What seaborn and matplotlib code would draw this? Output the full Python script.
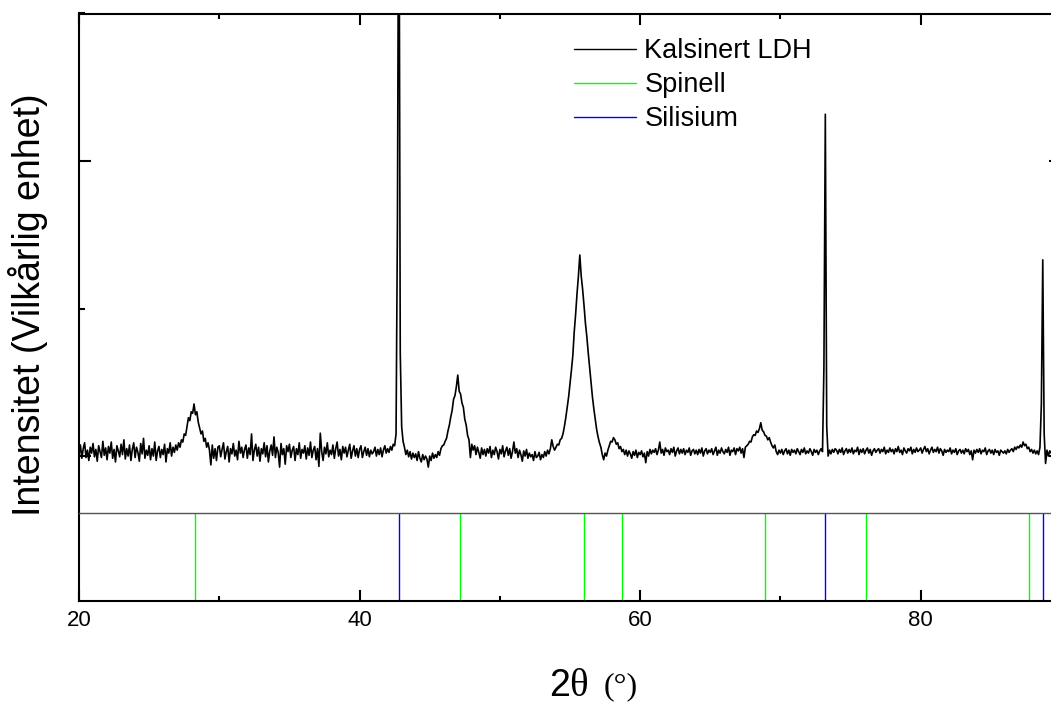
import numpy as np
import matplotlib
matplotlib.use("Agg")
import matplotlib.pyplot as plt
from matplotlib.lines import Line2D
from matplotlib.ticker import MultipleLocator
import seaborn as sns

# Scan: 2-theta from 20 to 90 degrees in 0.1 degree steps
scan_start, scan_stop, scan_step = 20.0, 90.0, 0.1
two_theta = np.round(np.arange(scan_start, scan_stop + scan_step / 2, scan_step), 1)

# Measured intensity (counts), one row per degree
intensity = [
    2010, 2075, 1985, 2050, 2090, 1990, 2040, 1970, 2060, 2020,  # 20
    2085, 1995, 2045, 1965, 2070, 2030, 1990, 2100, 2005, 2055,  # 21
    1975, 2065, 2020, 2095, 1985, 2045, 1960, 2070, 2035, 1995,  # 22
    2080, 2010, 2110, 1980, 2050, 2000, 2075, 1970, 2045, 2090,  # 23
    1990, 2060, 2025, 1965, 2085, 2015, 2120, 1985, 2040, 2005,  # 24
    2070, 1975, 2050, 2000, 2095, 1970, 2035, 2065, 1990, 2045,  # 25
    2010, 2080, 1960, 2050, 2020, 2090, 2000, 2060, 2025, 2075,  # 26
    2040, 2090, 2060, 2110, 2095, 2150, 2140, 2200, 2260, 2240,  # 27
    2300, 2290, 2353, 2280, 2300, 2230, 2190, 2150, 2170, 2100,  # 28
    2120, 2060, 2090, 2040, 1940, 2075, 1985, 2050, 1970, 2060,  # 29
    2070, 1995, 2045, 2090, 1980, 2030, 2065, 1960, 2050, 2015,  # 30
    2085, 2000, 2040, 1975, 2100, 2020, 2060, 1990, 2045, 2075,  # 31
    1985, 2055, 2010, 2150, 1970, 2040, 2080, 2000, 2060, 1965,  # 32
    2050, 2015, 2090, 1995, 2070, 1960, 2035, 2075, 2005, 2130,  # 33
    1990, 2060, 2025, 1925, 2085, 2010, 2050, 1945, 2070, 2030,  # 34
    2080, 1990, 2040, 2065, 1970, 2050, 2010, 2090, 1985, 2045,  # 35
    2020, 2070, 1980, 2055, 2005, 2095, 1990, 2040, 2065, 1975,  # 36
    2050, 1930, 2155, 2030, 1970, 2060, 2015, 2090, 1995, 2040,  # 37
    2010, 2075, 1985, 2050, 2095, 2000, 2045, 1975, 2065, 2020,  # 38
    2060, 1995, 2040, 2080, 1985, 2035, 2070, 2000, 2050, 1990,  # 39
    2045, 2070, 1990, 2030, 2060, 2005, 2050, 1995, 2040, 2015,  # 40
    2030, 2060, 2000, 2045, 2010, 2055, 1995, 2040, 2070, 2020,  # 41
    2050, 2025, 2065, 2040, 2080, 2070, 2150, 3600, 6500, 2700,  # 42
    2200, 2100, 2060, 2010, 2040, 1995, 2030, 1980, 2020, 1990,  # 43
    2015, 1970, 2030, 1985, 1960, 2010, 1975, 2000, 1980, 1925,  # 44
    2000, 1970, 2020, 1985, 2010, 1990, 2030, 2005, 2050, 2070,  # 45
    2075, 2100, 2120, 2170, 2210, 2265, 2310, 2385, 2410, 2470,  # 46
    2549, 2440, 2420, 2360, 2330, 2250, 2210, 2140, 2110, 1990,  # 47
    2080, 2040, 2070, 2010, 2060, 2025, 1985, 2055, 2010, 2045,  # 48
    2000, 2050, 2020, 2065, 1990, 2040, 2010, 2060, 2030, 1980,  # 49
    2045, 2015, 2070, 1995, 2035, 2060, 2005, 2050, 1985, 2030,  # 50
    2095, 2020, 2050, 1990, 2040, 2010, 1965, 2035, 2000, 2045,  # 51
    1985, 2020, 1995, 2010, 1970, 2030, 1990, 2000, 2025, 1975,  # 52
    2010, 1990, 2030, 2000, 2040, 2015, 2050, 2110, 2065, 2040,  # 53
    2060, 2080, 2075, 2110, 2120, 2150, 2200, 2260, 2330, 2400,  # 54
    2490, 2580, 2680, 2840, 2960, 3100, 3220, 3363, 3220, 3130,  # 55
    3020, 2900, 2810, 2700, 2600, 2500, 2400, 2320, 2250, 2180,  # 56
    2130, 2090, 2060, 2010, 1975, 2020, 2000, 2040, 2070, 2100,  # 57
    2095, 2125, 2110, 2080, 2090, 2050, 2065, 2030, 2045, 2010,  # 58
    2040, 2000, 2035, 2015, 1985, 2030, 2005, 2040, 1990, 2025,  # 59
    2010, 2035, 1995, 2020, 1955, 2030, 2000, 2045, 2015, 2040,  # 60
    2025, 2050, 2010, 2040, 2095, 2020, 2045, 2005, 2055, 2030,  # 61
    2040, 2010, 2050, 2025, 2060, 2000, 2035, 2055, 2015, 2045,  # 62
    2020, 2050, 2010, 2040, 2025, 2055, 2005, 2035, 2045, 2015,  # 63
    2040, 2010, 2045, 2020, 2055, 2000, 2035, 2050, 2015, 2040,  # 64
    2025, 2050, 2010, 2035, 2060, 2005, 2040, 2020, 2055, 2030,  # 65
    2015, 2045, 2025, 2060, 2005, 2040, 2030, 2055, 2010, 2050,  # 66
    2035, 2060, 2020, 2050, 1990, 2060, 2070, 2080, 2100, 2095,  # 67
    2130, 2145, 2140, 2170, 2160, 2185, 2226, 2175, 2165, 2140,  # 68
    2135, 2110, 2125, 2095, 2070, 2055, 2075, 2030, 2010, 2040,  # 69
    2020, 2045, 2010, 2035, 2050, 2015, 2040, 2005, 2045, 2025,  # 70
    2040, 2015, 2050, 2030, 2010, 2045, 2025, 2055, 2015, 2035,  # 71
    2020, 2050, 2030, 2005, 2045, 2025, 2040, 2010, 2035, 2050,  # 72
    2030, 2600, 4317, 2200, 2000, 2040, 2015, 2045, 2025, 2050,  # 73
    2040, 2015, 2045, 2025, 2055, 2010, 2035, 2050, 2020, 2045,  # 74
    2025, 2055, 2015, 2040, 2030, 2060, 2010, 2045, 2025, 2050,  # 75
    2015, 2040, 2055, 2020, 2045, 2005, 2035, 2050, 2025, 2040,  # 76
    2050, 2020, 2045, 2030, 2060, 2015, 2040, 2025, 2055, 2030,  # 77
    2045, 2015, 2050, 2030, 2065, 2025, 2040, 2010, 2055, 2035,  # 78
    2020, 2050, 2035, 2060, 2015, 2045, 2025, 2055, 2030, 2040,  # 79
    2055, 2020, 2045, 2065, 2030, 2050, 2015, 2040, 2060, 2025,  # 80
    2045, 2030, 2060, 2020, 2050, 2035, 2005, 2045, 2025, 2040,  # 81
    2030, 2055, 2015, 2040, 2025, 2050, 2010, 2035, 2045, 2020,  # 82
    2040, 2015, 2050, 2030, 2045, 2010, 2035, 1975, 2040, 2020,  # 83
    2045, 2025, 2050, 2015, 2040, 2030, 2055, 2010, 2035, 2045,  # 84
    2020, 2040, 2010, 2045, 2025, 2035, 2005, 2040, 2030, 2020,  # 85
    2035, 2015, 2045, 2025, 2040, 2050, 2030, 2060, 2045, 2065,  # 86
    2055, 2075, 2060, 2095, 2070, 2080, 2050, 2060, 2030, 2045,  # 87
    2020, 2040, 2015, 2035, 2010, 2060, 2350, 3330, 2150, 1950,  # 88
    2040, 2000, 2035, 2020, 2045, 2010, 2030, 2050, 2015, 2040,  # 89
    2025,                                                        # 90
]

# Reference reflection positions (2-theta, degrees)
spinel_positions = [28.3, 47.15, 55.97, 58.68, 68.88, 76.08, 87.71]
silicon_positions = [42.8, 73.16, 88.69]

series_labels = ["Kalsinert LDH", "Spinell", "Silisium"]
series_colors = ["black", "#00FF00", "#0000FF"]

x_tick_values = [20, 40, 60, 80]

# ---------------------------------------------------------------------------
sns.set_style("ticks")
plt.rcParams["font.family"] = ["Liberation Sans", "DejaVu Sans"]
plt.rcParams["text.color"] = "black"
plt.rcParams["axes.labelcolor"] = "black"
plt.rcParams["xtick.color"] = "black"
plt.rcParams["ytick.color"] = "black"

W, H = 1051, 704
fig = plt.figure(figsize=(W / 100, H / 100), dpi=100)

left_px, right_px = 79, 1061
top_px, split_px, bottom_px = 13.5, 513, 601


def fx(px):
    return px / W


def fy(px):
    return 1 - px / H


ax_top = fig.add_axes([fx(left_px), fy(split_px), fx(right_px - left_px), (split_px - top_px) / H])
ax_ref = fig.add_axes([fx(left_px), fy(bottom_px), fx(right_px - left_px), (bottom_px - split_px) / H],
                      sharex=ax_top)

# Diffraction pattern
sns.lineplot(x=two_theta, y=intensity, ax=ax_top, color=series_colors[0],
             linewidth=1.2, legend=False, estimator=None, sort=False)
ax_top.set_xlim(scan_start, scan_stop)
ax_top.set_ylim(1614, 5000)

# Reference sticks
ax_ref.vlines(spinel_positions, 0, 1, colors=series_colors[1], linewidth=1.0)
ax_ref.vlines(silicon_positions, 0, 1, colors=series_colors[2], linewidth=1.0)
ax_ref.set_ylim(0, 1)
ax_ref.set_yticks([])

spine_w = 1.5
for ax in (ax_top, ax_ref):
    ax.set_xlabel("")
    ax.set_ylabel("")
    for s in ax.spines.values():
        s.set_linewidth(spine_w)
        s.set_color("black")

ax_top.spines["bottom"].set_visible(False)
ax_ref.spines["top"].set_linewidth(1.0)
ax_ref.spines["top"].set_color("#555555")

# Ticks: top panel
ax_top.xaxis.set_major_locator(MultipleLocator(20))
ax_top.xaxis.set_minor_locator(MultipleLocator(10))
ax_top.yaxis.set_major_locator(MultipleLocator(2000))
ax_top.yaxis.set_minor_locator(MultipleLocator(1000))
ax_top.tick_params(axis="x", which="both", direction="in", bottom=False, top=True,
                   labelbottom=False, labeltop=False, width=spine_w)
ax_top.tick_params(axis="x", which="major", length=8)
ax_top.tick_params(axis="x", which="minor", length=3.8)
ax_top.tick_params(axis="y", which="both", direction="in", left=True, right=True,
                   labelleft=False, labelright=False, width=spine_w)
ax_top.tick_params(axis="y", which="major", length=8.6)
ax_top.tick_params(axis="y", which="minor", length=4.3)

# Ticks: reference panel
ax_ref.set_xticks(x_tick_values)
ax_ref.xaxis.set_minor_locator(MultipleLocator(10))
ax_ref.tick_params(axis="x", which="both", direction="in", bottom=True, top=False,
                   labelbottom=True, width=spine_w, labelsize=16, pad=6.5)
ax_ref.tick_params(axis="x", which="major", length=8)
ax_ref.tick_params(axis="x", which="minor", length=3.8)
ax_ref.tick_params(axis="y", which="both", left=False, right=False)

# Legend
handles = [Line2D([], [], color=c, linewidth=1.0) for c in series_colors]
ax_top.legend(handles, series_labels, loc="upper left",
              bbox_to_anchor=(fx(574), fy(38)), bbox_transform=fig.transFigure,
              frameon=False, borderpad=0, borderaxespad=0, fontsize=19.5,
              handlelength=2.3, handletextpad=0.3, labelspacing=0.30)

# Axis titles
fig.text(fx(28), fy(305), "Intensitet (Vilkårlig enhet)", rotation=90,
         ha="center", va="center", fontsize=27)
base_y = fy(695.5)
fig.text(fx(549), base_y, "2", fontsize=27, ha="left", va="baseline")
fig.text(fx(569), base_y, "θ", fontsize=28, ha="left", va="baseline",
         family=["Liberation Serif", "DejaVu Serif"])
fig.text(fx(604), base_y + 1.5 / H, "(°)", fontsize=23, ha="left", va="baseline",
         family=["Liberation Serif", "DejaVu Serif"])

fig.savefig("out.png", dpi=100)
